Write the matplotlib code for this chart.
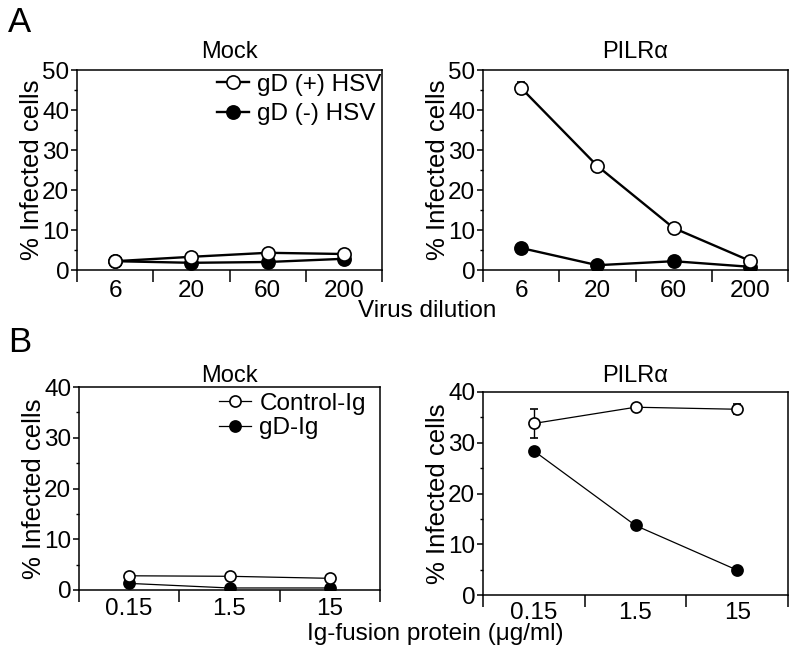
import numpy as np
import matplotlib
matplotlib.use('Agg')
import matplotlib.pyplot as plt
from matplotlib.lines import Line2D
from matplotlib.ticker import MultipleLocator, FixedLocator

plt.rcParams['font.family'] = ['Liberation Sans', 'DejaVu Sans']

W, H = 800, 653

# panel A: virus dilution
dilutions = ['6', '20', '60', '200']
mock_a_pos = [2.2, 3.3, 4.3, 4.0]
mock_a_pos_err = [0.3, 0.4, 0.4, 0.4]
mock_a_neg = [2.2, 1.8, 2.0, 2.8]
mock_a_neg_err = [0.3, 0.4, 0.4, 0.8]
pilr_a_pos = [45.5, 26.0, 10.5, 2.3]
pilr_a_pos_err = [1.6, 1.0, 0.5, 0.3]
pilr_a_neg = [5.5, 1.2, 2.2, 0.8]
pilr_a_neg_err = [0.5, 0.3, 0.8, 0.3]

# panel B: Ig-fusion protein
concentrations = ['0.15', '1.5', '15']
mock_b_ctrl = [2.8, 2.7, 2.3]
mock_b_ctrl_err = [0.2, 0.2, 0.2]
mock_b_gd = [1.3, 0.4, 0.4]
mock_b_gd_err = [0.2, 0.1, 0.1]
pilr_b_ctrl = [33.8, 37.0, 36.6]
pilr_b_ctrl_err = [2.8, 0.3, 1.0]
pilr_b_gd = [28.4, 13.7, 4.9]
pilr_b_gd_err = [0.4, 0.3, 0.3]

FS = 17.5


def make_axes(fig, left, right, top, bottom):
    return fig.add_axes([left / W, 1 - bottom / H, (right - left) / W, (bottom - top) / H])


def style_axes(ax, labels, ymax, title, title_pad, xpad=7.5):
    n = len(labels)
    ax.set_xlim(-0.5, n - 0.5)
    ax.set_ylim(0, ymax)
    ax.xaxis.set_major_locator(FixedLocator(range(n)))
    ax.set_xticklabels(labels)
    ax.xaxis.set_minor_locator(FixedLocator(np.arange(-0.5, n, 1.0)))
    ax.tick_params(axis='x', which='major', length=0, pad=xpad, labelsize=FS)
    ax.tick_params(axis='x', which='minor', length=8.5, width=1.1, direction='out')
    ax.yaxis.set_major_locator(MultipleLocator(10))
    ax.yaxis.set_minor_locator(MultipleLocator(5))
    ax.tick_params(axis='y', which='major', length=4, width=1.1, pad=1.5, labelsize=FS)
    ax.tick_params(axis='y', which='minor', length=2.5, width=1.0)
    for sp in ax.spines.values():
        sp.set_linewidth(1.1)
    ax.set_ylabel('% Infected cells', fontsize=18.5, labelpad=-1)
    ax.set_title(title, fontsize=17, pad=title_pad)


def draw(ax, y_open, e_open, y_fill, e_fill, lw, ms):
    x = np.arange(len(y_open))
    ax.errorbar(x, y_fill, yerr=e_fill, color='black', lw=lw, marker='o', ms=ms,
                mfc='black', mec='black', mew=1.2, capsize=3, elinewidth=1.0, zorder=3)
    ax.errorbar(x, y_open, yerr=e_open, color='black', lw=lw, marker='o', ms=ms,
                mfc='white', mec='black', mew=1.2, capsize=3, elinewidth=1.0, zorder=4)


def add_legend(ax, labels, lw, ms, spacing, anchor):
    handles = [
        Line2D([], [], color='black', lw=lw, marker='o', ms=ms, mfc='white', mec='black', mew=1.2),
        Line2D([], [], color='black', lw=lw, marker='o', ms=ms, mfc='black', mec='black', mew=1.2),
    ]
    ax.legend(handles, labels, loc='upper right', frameon=False, fontsize=FS,
              handlelength=1.3, handletextpad=0.35, labelspacing=spacing,
              borderaxespad=0.0, bbox_to_anchor=anchor)


fig = plt.figure(figsize=(W / 100, H / 100), dpi=100)

ax1 = make_axes(fig, 77, 382, 70, 270)
draw(ax1, mock_a_pos, mock_a_pos_err, mock_a_neg, mock_a_neg_err, 1.7, 9.5)
style_axes(ax1, dilutions, 50, 'Mock', 9)
add_legend(ax1, ['gD (+) HSV', 'gD (-) HSV'], 1.7, 9.5, 0.3, (1.03, 1.03))

ax2 = make_axes(fig, 483, 788, 70, 270)
draw(ax2, pilr_a_pos, pilr_a_pos_err, pilr_a_neg, pilr_a_neg_err, 1.7, 9.5)
style_axes(ax2, dilutions, 50, 'PILRα', 9)

ax3 = make_axes(fig, 79, 380, 387, 590)
draw(ax3, mock_b_ctrl, mock_b_ctrl_err, mock_b_gd, mock_b_gd_err, 0.9, 8)
style_axes(ax3, concentrations, 40, 'Mock', 3.5, xpad=6)
add_legend(ax3, ['Control-Ig', 'gD-Ig'], 0.9, 8, 0.1, (0.985, 1.02))

ax4 = make_axes(fig, 483, 788, 392, 595)
draw(ax4, pilr_b_ctrl, pilr_b_ctrl_err, pilr_b_gd, pilr_b_gd_err, 0.9, 8)
style_axes(ax4, concentrations, 40, 'PILRα', 7, xpad=5)

fig.text(427 / W, 1 - 317 / H, 'Virus dilution', ha='center', va='baseline', fontsize=FS)
fig.text(435 / W, 1 - 640 / H, 'Ig-fusion protein (μg/ml)', ha='center', va='baseline', fontsize=FS)
fig.text(8 / W, 1 - 32 / H, 'A', ha='left', va='baseline', fontsize=25)
fig.text(8 / W, 1 - 352 / H, 'B', ha='left', va='baseline', fontsize=25)

fig.savefig('out.png', dpi=100)
